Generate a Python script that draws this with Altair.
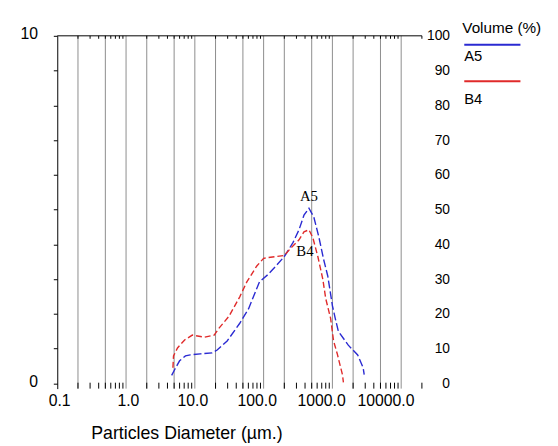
import altair as alt
import pandas as pd

# ---- data ----
diam_A5 = [4.6, 5.1, 6.0, 7.3, 8.6, 12.0, 17.9, 21.1, 29.5, 45, 60.5, 87, 117, 150, 200, 267,
           327, 386, 456, 536, 634, 745, 856, 1000, 1100, 1220, 1700, 2330, 2800, 2900]
vol_A5 = [0.23, 0.40, 0.65, 0.79, 0.82, 0.85, 0.88, 0.96, 1.22, 1.73, 2.15, 2.92, 3.14, 3.37, 3.65, 4.05,
          4.42, 4.84, 5.04, 4.79, 4.22, 3.57, 3.09, 2.24, 1.87, 1.50, 1.10, 0.82, 0.45, 0.25]

diam_B4 = [4.8, 4.9, 5.6, 7.1, 9.2, 13.7, 19.1, 22.5, 31.3, 45, 57, 79, 100, 150, 200, 250,
           327, 386, 456, 520, 614, 725, 800, 942, 1040, 1188, 1268, 1400, 1446]
vol_B4 = [0.45, 0.79, 1.02, 1.25, 1.39, 1.33, 1.39, 1.59, 1.93, 2.49, 2.92, 3.37, 3.60, 3.65, 3.68, 3.90,
          4.13, 4.36, 4.42, 4.19, 3.65, 3.00, 2.44, 1.87, 1.22, 0.82, 0.59, 0.25, 0.03]

series = ["A5", "B4"]
colors = ["#2a2ad2", "#e02a2a"]
dashes = [[8, 3], [6, 3]]

annot_labels = ["A5", "B4"]
annot_diam = [456, 399]
annot_vol = [5.38, 3.80]

x_tick_values = [0.1, 1, 10, 100, 1000, 10000]
grid_values = [0.2, 0.5, 1, 2, 5, 10, 20, 50, 100, 200, 500, 1000, 2000, 5000, 10000]
minor_values = [m * 10 ** k for k in range(-1, 5) for m in range(2, 10) if m * 10 ** k <= 20000]
left_ticks = list(range(0, 11))
right_ticks = list(range(0, 101, 10))

W, H = 370, 358
FONT = "Liberation Sans"

curves = pd.concat([
    pd.DataFrame({"d": diam_A5, "v": vol_A5, "s": "A5"}),
    pd.DataFrame({"d": diam_B4, "v": vol_B4, "s": "B4"}),
])
annots = pd.DataFrame({"d": annot_diam, "v": annot_vol, "t": annot_labels})
grid_df = pd.DataFrame({"d": grid_values})
minor_df = pd.DataFrame({"d": minor_values})
right_df = pd.DataFrame({"r": right_ticks})
one = pd.DataFrame({"k": [0]})

xscale = alt.Scale(type="log", domain=[0.1, 20000], nice=False)
yscale = alt.Scale(domain=[-0.15, 10], nice=False, zero=False)

xaxis = alt.Axis(values=x_tick_values, labelExpr="format(datum.value, '.1f')",
                 ticks=False, tickSize=0, domain=False, grid=False,
                 labelAlign="right", labelOffset=13, labelPadding=4, labelFontSize=16,
                 labelFlush=False, labelOverlap=False,
                 title="Particles Diameter (µm.)", titleFontSize=18, titleFontWeight="normal",
                 titleAlign="left", titleAnchor="start", titleX=34, titleY=51,
                 titleBaseline="alphabetic")

yaxis = alt.Axis(values=left_ticks,
                 labelExpr="datum.value == 0 || datum.value == 10 ? datum.label : ''",
                 grid=False, domainColor="black", tickColor="black", tickSize=4,
                 labelPadding=16, labelFontSize=16, labelOffset=-2, title=None,
                 labelFlush=False, labelOverlap=False)

raxis = alt.Axis(orient="right", values=right_ticks, ticks=False, tickSize=0, domain=False,
                 grid=False, labelAlign="right", labelPadding=28, labelFontSize=14,
                 title=None, labelFlush=False, labelOverlap=False)

X = alt.X("d:Q", scale=xscale, axis=xaxis, title="Particles Diameter (µm.)")

grid = alt.Chart(grid_df).mark_rule(color="#8c8c8c", strokeWidth=1).encode(x=X)

top_line = alt.Chart(one).mark_rule(color="black", strokeWidth=1).encode(
    x=alt.value(0), x2=alt.value(W), y=alt.value(0))

bottom_minor = alt.Chart(minor_df).mark_rule(color="black").encode(
    x=X, y=alt.value(H - 6), y2=alt.value(H))

top_minor = alt.Chart(minor_df).mark_rule(color="black").encode(
    x=X, y=alt.value(0), y2=alt.value(3))

lines = alt.Chart(curves).mark_line(strokeWidth=1.4).encode(
    x=X,
    y=alt.Y("v:Q", scale=yscale, axis=yaxis),
    color=alt.Color("s:N", scale=alt.Scale(domain=series, range=colors), legend=None),
    strokeDash=alt.StrokeDash("s:N", scale=alt.Scale(domain=series, range=dashes), legend=None),
)

annot = alt.Chart(annots).mark_text(font="Liberation Serif", fontSize=15, color="black").encode(
    x=X,
    y=alt.Y("v:Q", scale=yscale, axis=None),
    text="t:N")

right = alt.Chart(right_df).mark_point(opacity=0).encode(
    x=alt.value(0),
    y=alt.Y("r:Q", scale=alt.Scale(domain=[-1.5, 100], nice=False, zero=False), axis=raxis))

# legend (drawn as annotation, line above each label)
LX = 413
leg_title = alt.Chart(one).mark_text(text="Volume (%)", font=FONT, fontSize=15.5, align="left",
                                     baseline="alphabetic", color="black").encode(
    x=alt.value(LX - 2), y=alt.value(-3))
leg_items = []
for i, (name, col) in enumerate(zip(series, colors)):
    y0 = 9 + i * 37
    leg_items.append(alt.Chart(one).mark_rule(color=col, strokeWidth=2).encode(
        x=alt.value(LX), x2=alt.value(LX + 57), y=alt.value(y0)))
    leg_items.append(alt.Chart(one).mark_text(text=name, font=FONT, fontSize=15, align="left",
                                              baseline="alphabetic", color="black").encode(
        x=alt.value(LX), y=alt.value(y0 + 17 + i * 6)))

chart = alt.layer(grid, top_line, bottom_minor, top_minor, lines, annot, right,
                  leg_title, *leg_items).resolve_scale(y="independent").properties(
    width=W, height=H,
    padding={"left": 50, "top": 25, "right": 130, "bottom": 55},
    autosize=alt.AutoSizeParams(type="none"),
).configure_view(stroke=None).configure_axis(
    labelFont=FONT, titleFont=FONT, labelColor="black", titleColor="black")

chart.save("out.html", embed_options={"renderer": "svg", "actions": False})
